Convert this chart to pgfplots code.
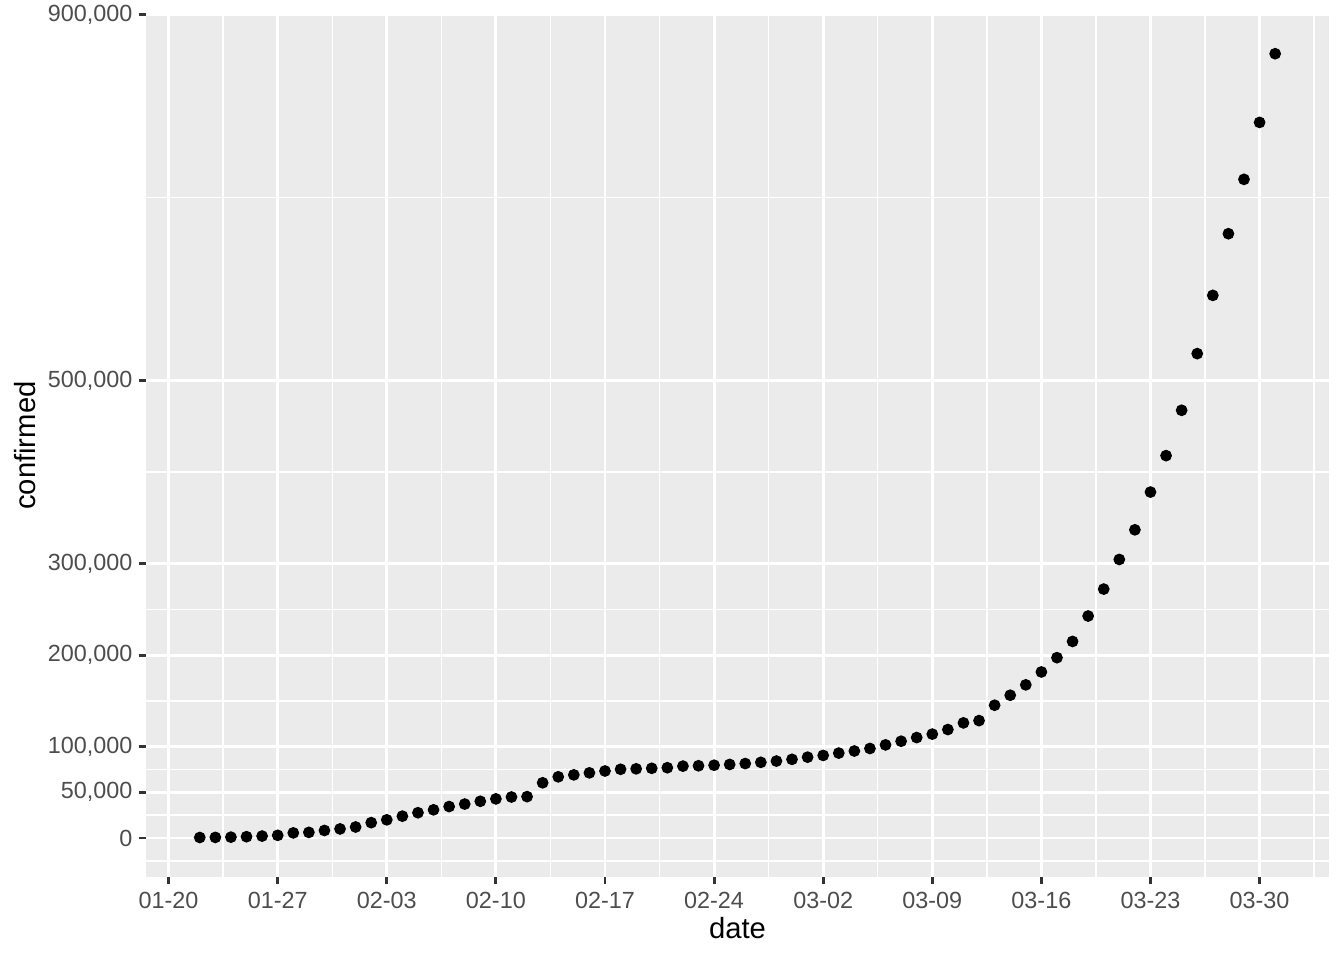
\documentclass[border=0pt]{standalone}
\usepackage{fontspec}
\setmainfont{Liberation Sans}
\usepackage{pgfplots}
\pgfplotsset{compat=1.18}
\definecolor{panelgrey}{HTML}{EBEBEB}
\definecolor{textgrey}{HTML}{4D4D4D}
\definecolor{tickgrey}{HTML}{333333}

\begin{document}
\begin{tikzpicture}
\useasboundingbox (0,0) rectangle (504bp,360bp);
\begin{axis}[
    at={(54.75bp,31.24bp)}, anchor=south west,
    scale only axis,
    width=443.6bp, height=323.3bp,
    xmin=-1.45, xmax=74.45,
    ymin=-42292, ymax=900334,
    axis background/.style={fill=panelgrey},
    axis line style={draw=none},
    xtick={0,7,...,70},
    xticklabels={01-20,01-27,02-03,02-10,02-17,02-24,03-02,03-09,03-16,03-23,03-30},
    ytick={0,50000,100000,200000,300000,500000,900000},
    minor xtick={3.5,10.5,...,73.5},
    minor ytick={-25000,25000,75000,150000,250000,400000,700000},
    grid=both,
    major grid style={white, line width=1.07bp},
    minor grid style={white, line width=0.53bp},
    tick align=outside, tick pos=left,
    major tick length=2.75bp, minor tick length=0pt,
    tick style={tickgrey, line width=1.07bp},
    scaled y ticks=false,
    yticklabel style={/pgf/number format/fixed, /pgf/number format/1000 sep={,}},
    /pgf/number format/assume math mode=true,
    ticklabel style={font=\fontsize{8.8}{10}\selectfont, text=textgrey, inner sep=0pt},
    xticklabel style={yshift=-2.95bp},
    yticklabel style={xshift=-2.2bp},
    xlabel={date}, ylabel={confirmed},
    label style={font=\fontsize{11}{13}\selectfont, inner sep=0pt},
    xlabel style={yshift=-3.1bp},
    ylabel style={yshift=4.25bp},
]
\addplot[only marks, mark=*, mark size=2bp, black] coordinates {
(2,555)(3,654)(4,941)(5,1434)(6,2118)(7,2927)(8,5578)(9,6166)(10,8234)
(11,9927)(12,12038)(13,16787)(14,19881)(15,23892)(16,27636)(17,30818)
(18,34392)(19,37121)(20,40151)(21,42763)(22,44803)(23,45222)(24,60370)
(25,66887)(26,69032)(27,71226)(28,73260)(29,75138)(30,75641)(31,76199)
(32,76843)(33,78599)(34,78985)(35,79570)(36,80415)(37,81397)(38,82756)
(39,84124)(40,86013)(41,88371)(42,90309)(43,92844)(44,95124)(45,97886)
(46,101800)(47,105836)(48,109835)(49,113582)(50,118582)(51,125865)
(52,128343)(53,145193)(54,156097)(55,167449)(56,181546)(57,197168)
(58,214915)(59,242713)(60,272167)(61,304528)(62,336953)(63,378235)
(64,418045)(65,467653)(66,529591)(67,593291)(68,660693)(69,720140)
(70,782389)(71,857487)
};
\end{axis}
\end{tikzpicture}
\end{document}
